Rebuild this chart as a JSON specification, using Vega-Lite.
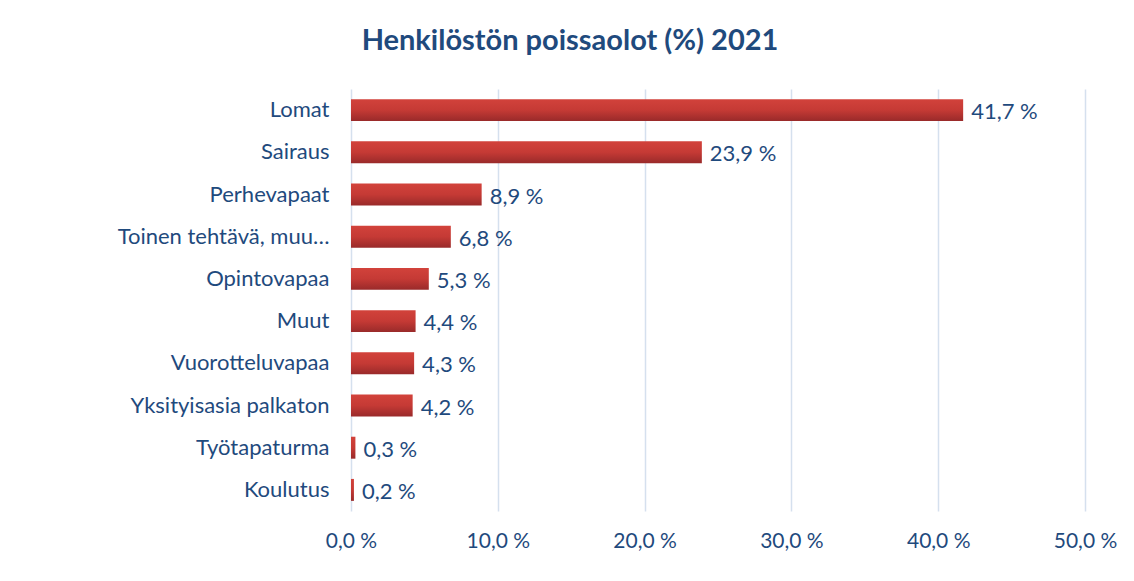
{
  "$schema": "https://vega.github.io/schema/vega-lite/v6.json",
  "autosize": {"type": "none"},
  "width": 734,
  "height": 422,
  "padding": {"left": 351, "top": 89, "right": 49, "bottom": 70},
  "background": "white",
  "config": {
    "locale": {"number": {"decimal": ",", "thousands": "\u00a0", "grouping": [3], "currency": ["", "\u00a0€"], "percent": "\u00a0%"}},
    "view": {"stroke": null},
    "font": "Lato"
  },
  "title": {
    "text": "Henkilöstön poissaolot (%) 2021",
    "font": "Lato",
    "fontSize": 29,
    "fontWeight": "bold",
    "color": "#1F4A7D",
    "anchor": "middle",
    "dx": -148,
    "offset": 33
  },
  "data": {
    "values": [
      {"syy": "Lomat", "osuus": 0.417},
      {"syy": "Sairaus", "osuus": 0.239},
      {"syy": "Perhevapaat", "osuus": 0.089},
      {"syy": "Toinen tehtävä, muu…", "osuus": 0.068},
      {"syy": "Opintovapaa", "osuus": 0.053},
      {"syy": "Muut", "osuus": 0.044},
      {"syy": "Vuorotteluvapaa", "osuus": 0.043},
      {"syy": "Yksityisasia palkaton", "osuus": 0.042},
      {"syy": "Työtapaturma", "osuus": 0.003},
      {"syy": "Koulutus", "osuus": 0.002}
    ]
  },
  "encoding": {
    "y": {
      "field": "syy",
      "type": "nominal",
      "sort": null,
      "title": null,
      "scale": {"paddingInner": 0.48, "paddingOuter": 0.24},
      "axis": {
        "domain": false,
        "ticks": false,
        "labelFont": "Lato",
        "labelFontSize": 22,
        "labelColor": "#1F4A7D",
        "labelPadding": 22,
        "labelLimit": 340
      }
    },
    "x": {
      "field": "osuus",
      "type": "quantitative",
      "title": null,
      "scale": {"domain": [0, 0.5], "nice": false},
      "axis": {
        "values": [0, 0.1, 0.2, 0.3, 0.4, 0.5],
        "format": ".1%",
        "domain": false,
        "ticks": false,
        "grid": true,
        "gridColor": "#D5E0EE",
        "gridWidth": 1.5,
        "labelFont": "Lato",
        "labelFontSize": 21,
        "labelColor": "#1F4A7D",
        "labelPadding": 19,
        "labelFlush": false
      }
    }
  },
  "layer": [
    {
      "mark": {
        "type": "bar",
        "color": {
          "gradient": "linear",
          "x1": 0, "y1": 0, "x2": 0, "y2": 1,
          "stops": [
            {"offset": 0, "color": "#D2423B"},
            {"offset": 0.5, "color": "#C53A35"},
            {"offset": 1, "color": "#992A2A"}
          ]
        }
      }
    },
    {
      "mark": {
        "type": "text",
        "align": "left",
        "baseline": "middle",
        "dx": 8,
        "dy": 2,
        "font": "Lato",
        "fontSize": 22,
        "color": "#1F4A7D"
      },
      "encoding": {
        "text": {"field": "osuus", "type": "quantitative", "format": ".1%"}
      }
    }
  ]
}
